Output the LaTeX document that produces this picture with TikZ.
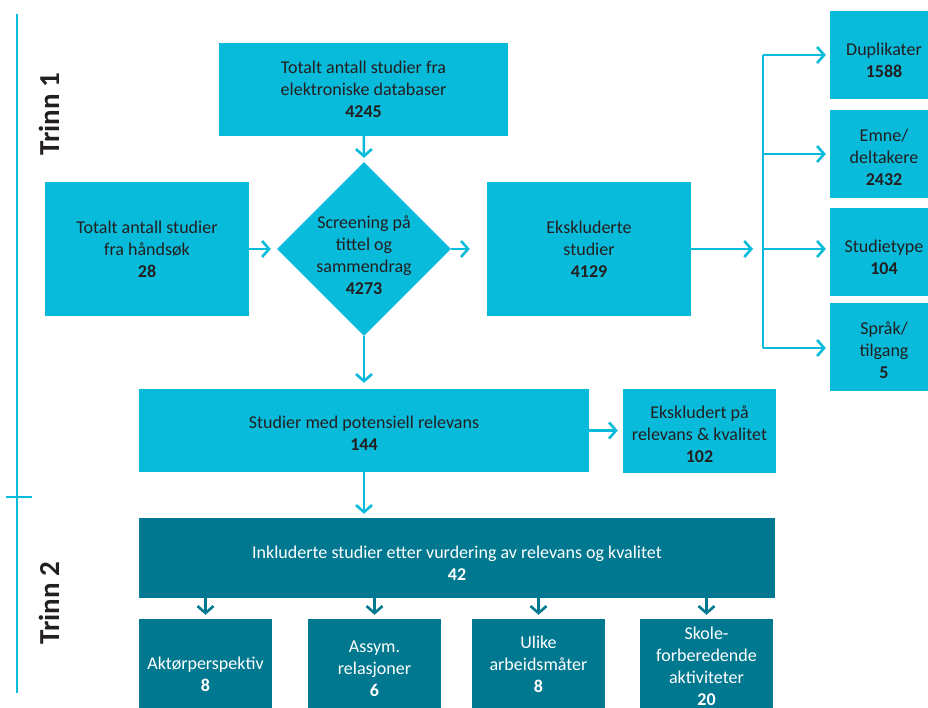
\documentclass[tikz,border=0pt]{standalone}
\usepackage{fontspec}
\setmainfont{Carlito}
\usetikzlibrary{shapes.geometric,arrows.meta,calc}
\definecolor{cyanbox}{RGB}{8,187,218}
\definecolor{tealbox}{RGB}{0,120,143}
\definecolor{txt}{RGB}{35,31,32}
\newcommand\fs{\fontsize{18}{22}\selectfont}
\tikzset{
  lbox/.style={rectangle, fill=cyanbox, text=txt, align=center, inner sep=0pt, font=\fs},
  dbox/.style={rectangle, fill=tealbox, text=white, align=center, inner sep=0pt, font=\fs},
  ltext/.style={text=txt, align=center, font=\fs, inner sep=0pt},
  wtext/.style={text=white, align=center, font=\fs, inner sep=0pt},
  conn/.style={draw=cyanbox, line width=2.6pt, -{Straight Barb[length=7pt,width=16pt]}},
  dconn/.style={draw=tealbox, line width=2.6pt, -{Straight Barb[length=7pt,width=16pt]}},
  plain/.style={draw=cyanbox, line width=2.6pt},
  trinn/.style={rotate=90, text=txt, font=\fontsize{29}{32}\selectfont\bfseries}
}
\begin{document}
\begin{tikzpicture}[x=1pt,y=-1pt]
\useasboundingbox (0,0) rectangle (928,708);
\clip (0,0) rectangle (928,708);
% axis
\coordinate (axtop) at (17,14);
\coordinate (axbot) at (17,693);
\coordinate (tickl) at (6,497);
\coordinate (tickr) at (32,497);
\draw[plain] (axtop) -- (axbot);
\draw[plain] (tickl) -- (tickr);
\node[trinn] (t1) at (49,114) {Trinn 1};
\node[trinn] (t2) at (49,603) {Trinn 2};
% boxes
\node[lbox, minimum width=289pt, minimum height=93pt] (top) at (363.5,89.5)
  {Totalt antall studier fra\\elektroniske databaser\\\textbf{4245}};
\node[lbox, minimum width=204pt, minimum height=134pt] (left) at (147,249)
  {Totalt antall studier\\fra håndsøk\\\textbf{28}};
\node[diamond, fill=cyanbox, minimum width=174pt, minimum height=174pt, inner sep=0pt] (dia) at (364,249) {};
\node[ltext] (diatext) at (364,255)
  {Screening på\\tittel og\\sammendrag\\\textbf{4273}};
\node[lbox, minimum width=204pt, minimum height=134pt] (excl) at (589,249)
  {Ekskluderte\\studier\\\textbf{4129}};
\node[lbox, minimum width=108pt, minimum height=88pt] (dup) at (884,55) {};
\node[ltext] at ($(dup)+(0,5)$) {Duplikater\\\textbf{1588}};
\node[lbox, minimum width=108pt, minimum height=88pt] (emne) at (884,154) {};
\node[ltext] at ($(emne)+(0,3)$) {Emne/\\deltakere\\\textbf{2432}};
\node[lbox, minimum width=108pt, minimum height=88pt] (stype) at (884,252) {};
\node[ltext] at ($(stype)+(0,5)$) {Studietype\\\textbf{104}};
\node[lbox, minimum width=108pt, minimum height=88pt] (sprak) at (884,347) {};
\node[ltext] at ($(sprak)+(0,3)$) {Språk/\\tilgang\\\textbf{5}};
\node[lbox, minimum width=450pt, minimum height=83pt] (mid) at (364,430.5) {};
\node[ltext] at ($(mid)+(0,3)$) {Studier med potensiell relevans\\\textbf{144}};
\node[lbox, minimum width=153pt, minimum height=84pt] (ekr) at (699.5,430.5) {};
\node[ltext] at ($(ekr)+(0,4)$) {Ekskludert på\\relevans \& kvalitet\\\textbf{102}};
\node[dbox, minimum width=636pt, minimum height=80pt] (inc) at (457,558) {};
\node[wtext] at ($(inc)+(0,5)$) {Inkluderte studier etter vurdering av relevans og kvalitet\\\textbf{42}};
\node[dbox, minimum width=133pt, minimum height=96pt] (b1) at (205.5,667) {};
\node[wtext] at ($(b1)+(0,7)$) {Aktørperspektiv\\\textbf{8}};
\node[dbox, minimum width=133pt, minimum height=96pt] (b2) at (374.5,667) {};
\node[wtext] at ($(b2)+(0,2)$) {Assym.\\relasjoner\\\textbf{6}};
\node[dbox, minimum width=133pt, minimum height=96pt] (b3) at (538.5,667) {};
\node[wtext] at ($(b3)+(0,-3)$) {Ulike\\arbeidsmåter\\\textbf{8}};
\node[dbox, minimum width=133pt, minimum height=96pt] (b4) at (706.5,667) {};
\node[wtext] at ($(b4)+(0,-1)$) {Skole-\\forberedende\\aktiviteter\\\textbf{20}};
% connectors
\draw[conn, shorten >=4pt] (top) -- (dia.north);
\draw[conn, shorten >=6pt] (left) -- (dia.west);
\draw[conn, shorten >=17pt] (dia.east) -- (excl.west);
\draw[conn, shorten >=6pt] (dia.south) -- (dia.south |- mid.north);
\coordinate (br) at (763,249);
\coordinate (brtop) at (763,55);
\coordinate (brbot) at (763,348);
\draw[conn, shorten >=10pt] (excl.east) -- (br);
\draw[plain] (brtop) -- (brbot);
\draw[conn, shorten >=4pt] (br |- dup) -- (dup.west);
\draw[conn, shorten >=4pt] (br |- emne) -- (emne.west);
\draw[conn, shorten >=4pt] (br) -- (br -| stype.west);
\draw[conn, shorten >=4pt] (brbot) -- (brbot -| sprak.west);
\draw[conn, shorten >=5pt] (mid) -- (ekr.west);
\draw[conn, shorten >=4pt] (mid.south) -- (mid.south |- inc.north);
\draw[dconn, shorten >=4pt] (inc.south -| b1) -- (b1.north);
\draw[dconn, shorten >=4pt] (inc.south -| b2) -- (b2.north);
\draw[dconn, shorten >=4pt] (inc.south -| b3) -- (b3.north);
\draw[dconn, shorten >=4pt] (inc.south -| b4) -- (b4.north);
\end{tikzpicture}
\end{document}
